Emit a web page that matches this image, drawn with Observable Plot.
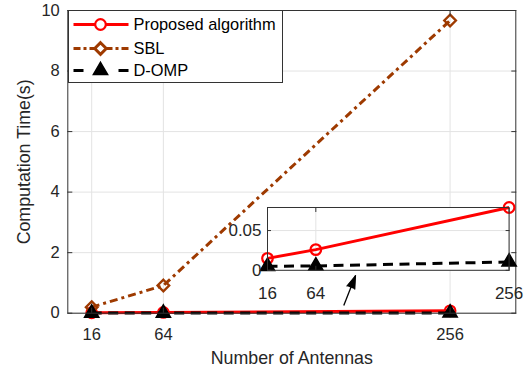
<!DOCTYPE html>
<html><head><meta charset="utf-8">
<script src="https://cdn.jsdelivr.net/npm/d3@7"></script>
<script src="https://cdn.jsdelivr.net/npm/@observablehq/plot@0.6"></script>
<style>
html,body{margin:0;padding:0;background:#fff;}
#wrap{position:relative;width:532px;height:375px;font-family:"Liberation Sans",Arial,sans-serif;}
#wrap svg{position:absolute;}
</style></head><body><div id="wrap"></div>
<script>
// ---- data ----
const antennas = [16, 64, 256];
const proposed = [0.015, 0.026, 0.079];
const sbl = [0.2, 0.915, 9.67];
const domp = [0.005, 0.0055, 0.0105];
const seriesNames = ["Proposed algorithm", "SBL", "D-OMP"];
const xTicks = [16, 64, 256];
const yTicks = [0, 2, 4, 6, 8, 10];
const insetYTicks = [0, 0.05];
const insetYLabels = ["0", "0.05"];
const arrowAnn = [{x1: 184.8, y1: 0.254, x2: 192.7, y2: 1.245}];

const seriesValues = [proposed, sbl, domp];
const styles = [
  {stroke: "#ff0000", dash: null, symbol: "circle", fill: "none", r: 5.3, sw: 2.2},
  {stroke: "#9e3a00", dash: "8,4,3,4", symbol: "diamond2", fill: "none", r: 5.2, sw: 2.4},
  {stroke: "#000000", dash: "10,6.5", symbol: "triangle", fill: "#000000", r: 5.3, sw: 1.5}
];
const FONT = '"Liberation Sans", Arial, sans-serif';
const AX = "#333333", GRID = "#e3e3e3";

function seriesMarks(k) {
  const s = styles[k];
  const data = antennas.map((a, i) => ({x: a, y: seriesValues[k][i]}));
  return [
    Plot.line(data, {x: "x", y: "y", stroke: s.stroke, strokeWidth: 3, strokeDasharray: s.dash, strokeLinecap: "butt"}),
    Plot.dot(data, {x: "x", y: "y", symbol: s.symbol, r: s.r, stroke: s.stroke, fill: s.fill, strokeWidth: s.sw})
  ];
}

const wrap = document.getElementById("wrap");

// ---- main chart ----
const main = Plot.plot({
  width: 532, height: 375,
  marginLeft: 67.3, marginRight: 16.7, marginTop: 10, marginBottom: 62.3,
  style: {fontFamily: FONT, fontSize: "16.5px", background: "white", color: "#262626"},
  x: {domain: [0, 300]},
  y: {domain: [0, 10]},
  marks: [
    Plot.gridX(xTicks, {stroke: GRID, strokeOpacity: 1}),
    Plot.gridY(yTicks, {stroke: GRID, strokeOpacity: 1}),
    ...seriesMarks(0), ...seriesMarks(1), ...seriesMarks(2),
    Plot.frame({stroke: AX}),
    Plot.axisX(xTicks, {anchor: "bottom", tickSize: -5, tickPadding: 19.6, label: null, stroke: AX}),
    Plot.axisX(xTicks, {anchor: "top", tickSize: -5, tickFormat: () => "", label: null, stroke: AX}),
    Plot.axisY(yTicks, {anchor: "left", tickSize: -5, tickPadding: 13, label: null, stroke: AX}),
    Plot.axisY(yTicks, {anchor: "right", tickSize: -5, tickFormat: () => "", label: null, stroke: AX}),
    Plot.text(["Number of Antennas"], {text: d => d, frameAnchor: "bottom", dy: 45.3, fontSize: 17.8, textAnchor: "middle", lineAnchor: "middle", fill: "#262626"}),
    Plot.text(["Computation Time(s)"], {text: d => d, frameAnchor: "left", dx: -43.8, rotate: -90, fontSize: 17.8, textAnchor: "middle", lineAnchor: "middle", fill: "#262626"}),
    Plot.link(arrowAnn, {x1: "x1", y1: "y1", x2: "x2", y2: "y2", stroke: "black", strokeWidth: 1.3}),
    Plot.vector(arrowAnn, {x: "x2", y: "y2", length: 13, rotate: 21.3, shape: "spike", r: 4.3, anchor: "end", fill: "black", stroke: "black", strokeWidth: 1})
  ]
});
main.style.left = "0px"; main.style.top = "0px";
wrap.appendChild(main);

// ---- inset ----
const inset = Plot.plot({
  width: 305.3, height: 107.8,
  marginLeft: 40, marginRight: 23.7, marginTop: 10, marginBottom: 35,
  style: {fontFamily: FONT, fontSize: "17px", background: "transparent", color: "#262626"},
  x: {domain: [16, 256]},
  y: {domain: [0, 0.079]},
  marks: [
    Plot.frame({fill: "white"}),
    Plot.gridX(xTicks, {stroke: GRID, strokeOpacity: 1}),
    Plot.gridY(insetYTicks, {stroke: GRID, strokeOpacity: 1}),
    ...seriesMarks(0), ...seriesMarks(2),
    Plot.frame({stroke: AX}),
    Plot.axisX(xTicks, {anchor: "bottom", tickSize: -4, tickPadding: 20.5, label: null, stroke: AX}),
    Plot.axisX(xTicks, {anchor: "top", tickSize: -4, tickFormat: () => "", label: null, stroke: AX}),
    Plot.axisY(insetYTicks, {anchor: "left", tickSize: -4, tickPadding: 10, tickFormat: (d, i) => insetYLabels[i], label: null, stroke: AX}),
    Plot.axisY(insetYTicks, {anchor: "right", tickSize: -4, tickFormat: () => "", label: null, stroke: AX})
  ]
});
inset.style.left = "226.7px"; inset.style.top = "196.7px";
wrap.appendChild(inset);

// ---- legend ----
const leg = d3.create("svg").attr("width", 216).attr("height", 74)
  .style("left", "67.5px").style("top", "9.5px")
  .style("font-family", FONT);
leg.append("rect").attr("x", 0.5).attr("y", 0.5).attr("width", 214).attr("height", 72)
  .attr("fill", "white").attr("stroke", AX);
const rowY = [14.5, 38.5, 60.5];
const legDash = [null, "7,3,3,3", "10,35"];
seriesNames.forEach((name, k) => {
  const s = styles[k], y = rowY[k];
  const g = leg.append("g");
  g.append("line").attr("x1", 5.5).attr("x2", 60.5).attr("y1", y).attr("y2", y)
    .attr("stroke", s.stroke).attr("stroke-width", 3).attr("stroke-dasharray", legDash[k]);
  const symMap = {circle: d3.symbolCircle, diamond2: d3.symbolDiamond2, triangle: d3.symbolTriangle};
  g.append("path").attr("d", d3.symbol(symMap[s.symbol], Math.PI * s.r * s.r)())
    .attr("transform", `translate(32.5,${y})`)
    .attr("fill", s.fill === "none" ? "white" : s.fill).attr("stroke", s.stroke).attr("stroke-width", k === 1 ? 3 : s.sw);
  g.append("text").attr("x", 65.5).attr("y", y).attr("dy", "0.35em")
    .attr("font-size", 16.4).attr("fill", "#000").text(name);
});
wrap.appendChild(leg.node());
</script>
</body></html>
